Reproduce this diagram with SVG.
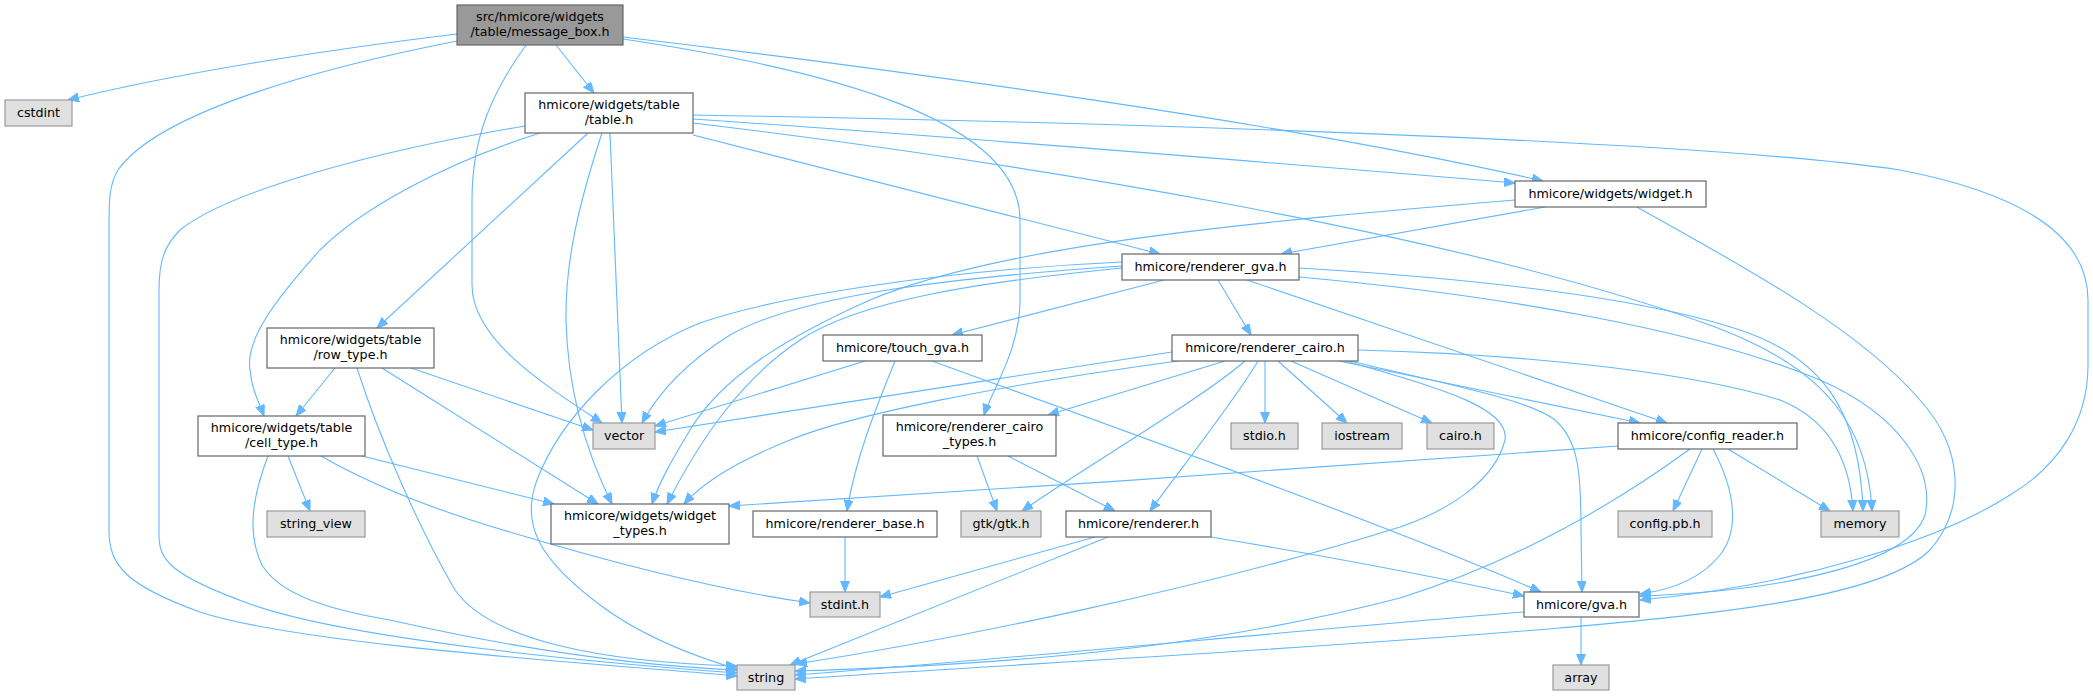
<svg xmlns="http://www.w3.org/2000/svg" width="2093" height="696" viewBox="0 0 2093 696">
<style>
.e{fill:none;stroke:#63b8ff;stroke-width:1.1;marker-end:url(#ah)}
.n rect{fill:#fff;stroke:#666;stroke-width:1.2}
.x rect{fill:#e0e0e0;stroke:#999;stroke-width:1.2}
.r rect{fill:#999;stroke:#666;stroke-width:1.2}
text{font-family:"DejaVu Sans","Liberation Sans",sans-serif;font-size:12.7px;text-anchor:middle;fill:#000}
</style>
<defs>
<marker id="ah" markerUnits="userSpaceOnUse" markerWidth="12" markerHeight="10" refX="11" refY="4.5" orient="auto"><path d="M0,0 L11,4.5 L0,9 z" fill="#63b8ff" stroke="#63b8ff"/></marker>
</defs>
<rect width="2093" height="696" fill="#fff"/>
<g id="edges">
<path class="e" d="M457,34 C340,48 180,72 68,100"/>
<path class="e" d="M457,41 C330,66 160,110 118,170 C109,185 109,200 109,230 L109,530 C109,565 125,585 200,612 C300,645 600,664 737,676"/>
<path class="e" d="M526,45 C490,95 472,140 472,200 L472,285 C472,340 545,385 602,423"/>
<path class="e" d="M556,45 L594,93"/>
<path class="e" d="M623,37 C900,70 1300,125 1543,181"/>
<path class="e" d="M623,39 C830,70 1020,120 1020,220 L1020,300 C1020,350 992,390 984,415"/>
<path class="e" d="M525,126 C380,150 230,190 180,230 C165,245 159,260 159,290 L159,535 C159,560 170,575 250,604 C350,640 600,663 737,673"/>
<path class="e" d="M540,133 C440,165 360,210 320,250 C275,300 245,340 250,370 C252,390 258,400 264,416"/>
<path class="e" d="M588,133 L377,328"/>
<path class="e" d="M602,133 C580,200 565,260 566,320 C568,400 590,460 612,504"/>
<path class="e" d="M610,133 L622,423"/>
<path class="e" d="M693,119 C1000,140 1300,165 1515,183"/>
<path class="e" d="M693,135 L1160,254"/>
<path class="e" d="M693,123 C1000,160 1450,230 1715,327 C1830,370 1868,430 1872,511"/>
<path class="e" d="M693,115 C1100,122 1700,140 1900,170 C2030,195 2088,240 2088,300 L2088,365 C2088,420 2060,465 2010,495 C1940,540 1800,585 1640,600"/>
<path class="e" d="M1545,207 L1281,254"/>
<path class="e" d="M1515,200 C1250,222 1000,245 870,300 C780,340 720,380 690,430 C675,455 660,480 652,504"/>
<path class="e" d="M1637,207 C1750,270 1860,330 1920,400 C1965,450 1965,510 1930,550 C1880,600 1700,615 1560,628 C1300,650 1000,665 795,679"/>
<path class="e" d="M1164,280 L952,335"/>
<path class="e" d="M1218,280 L1251,335"/>
<path class="e" d="M1122,266 C950,278 800,295 730,335 C690,360 660,390 642,423"/>
<path class="e" d="M1122,268 C980,282 860,300 800,340 C740,380 700,440 667,504"/>
<path class="e" d="M1122,262 C950,270 780,295 700,323 C620,355 560,420 537,480 C520,525 540,560 600,605 C640,635 690,655 737,669"/>
<path class="e" d="M1247,280 L1667,423"/>
<path class="e" d="M1299,268 C1500,280 1650,300 1740,330 C1830,360 1860,420 1863,511"/>
<path class="e" d="M1299,277 C1500,295 1700,330 1820,380 C1900,415 1935,470 1925,515 C1910,560 1800,590 1640,596"/>
<path class="e" d="M865,361 L655,426"/>
<path class="e" d="M895,361 C875,410 855,460 847,511"/>
<path class="e" d="M932,361 C1150,440 1400,530 1541,592"/>
<path class="e" d="M1172,352 C1000,378 800,410 655,432"/>
<path class="e" d="M1178,361 C1000,385 850,415 790,440 C740,460 705,480 684,504"/>
<path class="e" d="M1225,361 L1048,415"/>
<path class="e" d="M1245,361 C1200,400 1080,470 1022,511"/>
<path class="e" d="M1258,361 C1235,400 1180,470 1150,511"/>
<path class="e" d="M1265,361 L1265,423"/>
<path class="e" d="M1278,361 L1347,423"/>
<path class="e" d="M1291,361 L1432,423"/>
<path class="e" d="M1339,361 L1640,423"/>
<path class="e" d="M1345,361 C1450,390 1510,410 1505,440 C1495,480 1450,510 1400,527 C1200,590 950,640 796,664"/>
<path class="e" d="M1350,361 C1450,385 1530,400 1555,420 C1578,440 1581,470 1581,530 L1582,592"/>
<path class="e" d="M1358,350 C1550,355 1700,375 1780,400 C1830,420 1850,460 1853,511"/>
<path class="e" d="M977,456 L997,511"/>
<path class="e" d="M1008,456 L1115,511"/>
<path class="e" d="M1095,537 L880,597"/>
<path class="e" d="M1108,537 L790,665"/>
<path class="e" d="M1211,537 C1350,560 1450,580 1524,596"/>
<path class="e" d="M845,537 L845,592"/>
<path class="e" d="M1618,446 C1400,462 1000,490 729,506"/>
<path class="e" d="M1702,449 L1673,511"/>
<path class="e" d="M1728,449 L1830,511"/>
<path class="e" d="M1713,449 C1735,490 1740,530 1720,555 C1700,580 1670,590 1640,594"/>
<path class="e" d="M1690,449 C1620,500 1520,560 1400,598 C1200,650 1000,665 795,671"/>
<path class="e" d="M1581,617 L1581,665"/>
<path class="e" d="M1524,612 C1300,630 1000,660 795,675"/>
<path class="e" d="M335,368 L296,416"/>
<path class="e" d="M411,368 L593,430"/>
<path class="e" d="M382,368 L598,504"/>
<path class="e" d="M357,368 C380,440 420,530 455,590 C490,640 600,662 737,666"/>
<path class="e" d="M288,456 L310,511"/>
<path class="e" d="M362,456 L554,504"/>
<path class="e" d="M321,456 C380,490 450,515 520,535 C620,565 720,590 810,603"/>
<path class="e" d="M268,456 C255,490 245,530 262,565 C280,595 330,610 390,620 C500,645 620,665 737,670"/>
</g>
<g id="n_message_box" class="r"><rect x="457" y="5" width="166" height="40"/><text x="540" y="21.3">src/hmicore/widgets</text><text x="540" y="36">/table/message_box.h</text></g>
<g id="n_cstdint" class="x"><rect x="5" y="100" width="67" height="26"/><text x="38.5" y="117">cstdint</text></g>
<g id="n_table" class="n"><rect x="525" y="93" width="168" height="40"/><text x="609" y="109.3">hmicore/widgets/table</text><text x="609" y="124">/table.h</text></g>
<g id="n_widget" class="n"><rect x="1515" y="181" width="191" height="26"/><text x="1610.5" y="198">hmicore/widgets/widget.h</text></g>
<g id="n_renderer_gva" class="n"><rect x="1122" y="254" width="177" height="26"/><text x="1210.5" y="271">hmicore/renderer_gva.h</text></g>
<g id="n_row_type" class="n"><rect x="267" y="328" width="167" height="40"/><text x="350.5" y="344.3">hmicore/widgets/table</text><text x="350.5" y="359">/row_type.h</text></g>
<g id="n_touch_gva" class="n"><rect x="823" y="335" width="159" height="26"/><text x="902.5" y="352">hmicore/touch_gva.h</text></g>
<g id="n_renderer_cairo" class="n"><rect x="1172" y="335" width="186" height="26"/><text x="1265" y="352">hmicore/renderer_cairo.h</text></g>
<g id="n_cell_type" class="n"><rect x="198" y="416" width="167" height="40"/><text x="281.5" y="432.3">hmicore/widgets/table</text><text x="281.5" y="447">/cell_type.h</text></g>
<g id="n_vector" class="x"><rect x="593" y="423" width="62" height="26"/><text x="624" y="440">vector</text></g>
<g id="n_renderer_cairo_types" class="n"><rect x="883" y="415" width="173" height="41"/><text x="969.5" y="431.3">hmicore/renderer_cairo</text><text x="969.5" y="446">_types.h</text></g>
<g id="n_stdio" class="x"><rect x="1231" y="423" width="67" height="26"/><text x="1264.5" y="440">stdio.h</text></g>
<g id="n_iostream" class="x"><rect x="1322" y="423" width="80" height="26"/><text x="1362" y="440">iostream</text></g>
<g id="n_cairo" class="x"><rect x="1427" y="423" width="67" height="26"/><text x="1460.5" y="440">cairo.h</text></g>
<g id="n_config_reader" class="n"><rect x="1618" y="423" width="179" height="26"/><text x="1707.5" y="440">hmicore/config_reader.h</text></g>
<g id="n_widget_types" class="n"><rect x="551" y="504" width="178" height="40"/><text x="640" y="520.3">hmicore/widgets/widget</text><text x="640" y="535">_types.h</text></g>
<g id="n_string_view" class="x"><rect x="267" y="511" width="98" height="26"/><text x="316" y="528">string_view</text></g>
<g id="n_renderer_base" class="n"><rect x="753" y="511" width="184" height="26"/><text x="845" y="528">hmicore/renderer_base.h</text></g>
<g id="n_gtk" class="x"><rect x="961" y="511" width="80" height="26"/><text x="1001" y="528">gtk/gtk.h</text></g>
<g id="n_renderer" class="n"><rect x="1066" y="511" width="145" height="26"/><text x="1138.5" y="528">hmicore/renderer.h</text></g>
<g id="n_config_pb" class="x"><rect x="1618" y="511" width="94" height="26"/><text x="1665" y="528">config.pb.h</text></g>
<g id="n_memory" class="x"><rect x="1821" y="511" width="78" height="26"/><text x="1860" y="528">memory</text></g>
<g id="n_stdint" class="x"><rect x="810" y="592" width="70" height="25"/><text x="845" y="609">stdint.h</text></g>
<g id="n_gva" class="n"><rect x="1524" y="592" width="115" height="25"/><text x="1581.5" y="609">hmicore/gva.h</text></g>
<g id="n_string" class="x"><rect x="737" y="665" width="58" height="25"/><text x="766" y="682">string</text></g>
<g id="n_array" class="x"><rect x="1553" y="665" width="56" height="25"/><text x="1581" y="682">array</text></g>
</svg>
